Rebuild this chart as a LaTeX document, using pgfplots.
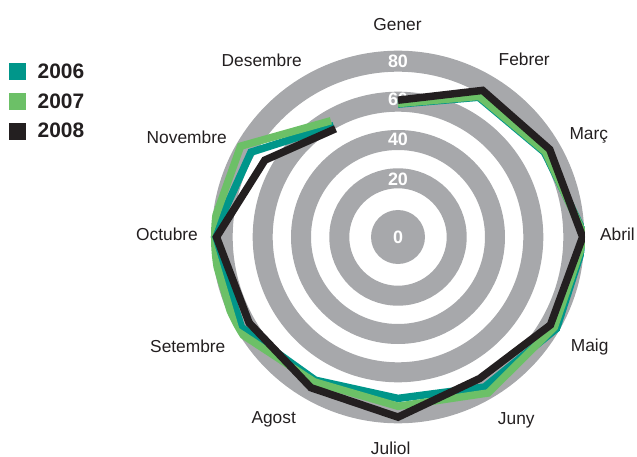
\documentclass[border=0pt]{standalone}
\usepackage{pgfplots}
\pgfplotsset{compat=1.18}
\usepgfplotslibrary{polar}
\usepackage{fontspec}
\setmainfont{Liberation Sans}
\definecolor{ringgray}{HTML}{A7A8AB}
\definecolor{c2006}{HTML}{00968A}
\definecolor{c2007}{HTML}{6CC067}
\definecolor{c2008}{HTML}{231F20}
\begin{document}
\begin{tikzpicture}
\clip (-398bp,-220bp) rectangle (239bp,237bp);
% rings
\fill[ringgray] (0,0) circle[radius=27bp];
\draw[ringgray, line width=20bp] (0,0) circle[radius=58.7bp];
\draw[ringgray, line width=20bp] (0,0) circle[radius=97bp];
\draw[ringgray, line width=20bp] (0,0) circle[radius=135.3bp];
\draw[ringgray, line width=21bp] (0,0) circle[radius=175.8bp];
\foreach \r/\t in {0/0, 58/20, 98/40, 137.5/60, 176/80}
  \node[white, font=\bfseries\fontsize{18}{20}\selectfont] at (0,\r bp) {\t};
% month names
\foreach \x/\y/\t in {-0.5/206.3/Gener, 126.2/171/Febrer, 190.8/97/Març,
    219.5/-3/Abril, 191.7/-114.7/Maig, 118.3/-187/Juny, -7.3/-217.5/Juliol,
    -124.3/-186.3/Agost, -210.2/-115.3/Setembre, -231/-3/Octubre,
    -211.3/93/Novembre, -136.3/170.3/Desembre}
  \node[anchor=base, inner sep=0pt, text=c2008, font=\fontsize{17.4}{19}\selectfont] at (\x bp,\y bp) {\t};
\begin{polaraxis}[
    at={(0,0)}, anchor=center,
    scale only axis, width=374bp, height=374bp,
    xmin=0, xmax=360, ymin=0, ymax=95,
    y filter/.expression={y+10},
    axis line style={draw=none},
    xmajorgrids=false, ymajorgrids=false,
    ytick=\empty, major tick length=0,
    xtick={0,30,...,330}, xticklabels={},
    legend style={draw=none, fill=none, at={(-0.548,0.976)}, anchor=north west,
      font=\bfseries\fontsize{21}{22}\selectfont, text=c2008, row sep=8.7bp,
      column sep=9bp, nodes={inner sep=2.5bp}},
    legend cell align=left,
    legend image code/.code={\fill[#1, draw=none] (0bp,-8.5bp) rectangle (17bp,8.5bp);},
]
\addplot[color=c2006, line width=7.5bp] coordinates {
  (90,57.5) (60,72) (30,76) (0,85.5) (330,83) (300,78)
  (270,72) (240,74) (210,81.8) (180,84.2) (150,76.2) (120,55.3)
};
\addlegendentry{2006}
\addplot[color=c2007, line width=7.5bp] coordinates {
  (90,57.8) (60,72.5) (30,76.5) (0,85) (330,81.7) (300,81.5)
  (270,76) (240,75) (210,85) (180,86.4) (150,82.3) (120,58.2)
};
\addlegendentry{2007}
\addplot[color=c2008, line width=7.5bp] coordinates {
  (90,59.5) (60,76) (30,79) (0,83.8) (330,79.4) (300,73)
  (270,81.5) (240,78.4) (210,77.3) (180,82.2) (150,68.1) (120,53.5)
};
\addlegendentry{2008}
\end{polaraxis}
\end{tikzpicture}
\end{document}
